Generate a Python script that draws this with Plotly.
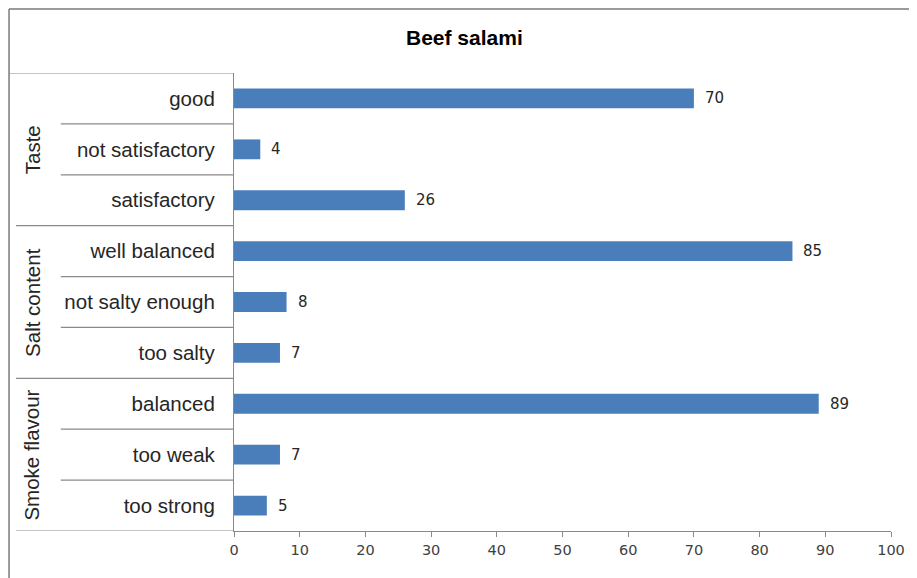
import plotly.graph_objects as go

categories = ["good", "not satisfactory", "satisfactory",
              "well balanced", "not salty enough", "too salty",
              "balanced", "too weak", "too strong"]
values = [70, 4, 26, 85, 8, 7, 89, 7, 5]
groups = ["Taste", "Salt content", "Smoke flavour"]
group_sizes = [3, 3, 3]
x_ticks = [0, 10, 20, 30, 40, 50, 60, 70, 80, 90, 100]
title = "Beef salami"

OFF = 8  # page body margin
W, H = 917 - OFF, 578 - OFF
ML, MR, MT, MB = 234 - OFF, 23, 73 - OFF, 47
PW = W - ML - MR
PH = H - MT - MB


def px_x(px):
    return (px - OFF - ML) / PW


def px_y(py):
    return (H - MB - (py - OFF)) / PH


line_col = "#8a8a8a"
bar_col = "#4a7ebb"

fig = go.Figure(go.Bar(
    x=values, y=categories, orientation="h",
    width=0.39, marker=dict(color=bar_col, line=dict(width=0)),
    hoverinfo="x+y",
))

annotations = []
for c, v in zip(categories, values):
    annotations.append(dict(x=v, y=c, xref="x", yref="y", text=str(v),
                            showarrow=False, xanchor="left", xshift=9,
                            font=dict(family="DejaVu Sans", size=15, color="#262626")))

shapes = []
# outer border (top and left)
shapes.append(dict(type="line", xref="paper", yref="paper",
                   x0=px_x(8), x1=px_x(930), y0=px_y(9), y1=px_y(9),
                   line=dict(color="#7a7a7a", width=1.5)))
shapes.append(dict(type="line", xref="paper", yref="paper",
                   x0=px_x(8), x1=px_x(8), y0=px_y(9), y1=px_y(590),
                   line=dict(color="#7a7a7a", width=1.5)))
# table lines
start = 0
for gi, (g, n) in enumerate(zip(groups, group_sizes)):
    top = start - 0.5
    x_left = 8 if gi == 0 else 15
    shapes.append(dict(type="line", xref="paper", yref="y",
                       x0=px_x(x_left), x1=0, y0=top, y1=top,
                       line=dict(color=line_col, width=1.2)))
    for k in range(1, n):
        yy = start + k - 0.5
        shapes.append(dict(type="line", xref="paper", yref="y",
                           x0=px_x(60), x1=0, y0=yy, y1=yy,
                           line=dict(color=line_col, width=1.2)))
    annotations.append(dict(x=px_x(31), y=start + (n - 1) / 2, xref="paper", yref="y",
                            text=g, textangle=-90, showarrow=False,
                            xanchor="center", yanchor="middle",
                            font=dict(family="Liberation Sans", size=20.5, color="#262626")))
    start += n
shapes.append(dict(type="line", xref="paper", yref="y",
                   x0=px_x(15), x1=0, y0=start - 0.5, y1=start - 0.5,
                   line=dict(color=line_col, width=1.2)))

annotations.append(dict(x=px_x(466), y=px_y(38), xref="paper", yref="paper",
                        text="<b>" + title + "</b>", showarrow=False,
                        xanchor="center", yanchor="middle",
                        font=dict(family="Liberation Sans", size=21, color="#000000")))

fig.update_layout(
    width=W, height=H,
    margin=dict(l=ML, r=MR, t=MT, b=MB, pad=0),
    paper_bgcolor="white", plot_bgcolor="white",
    showlegend=False,
    shapes=shapes, annotations=annotations,
    xaxis=dict(range=[0, 100], tickvals=x_ticks, ticktext=[str(t) for t in x_ticks],
               showgrid=False, zeroline=False, showline=True,
               linecolor=line_col, linewidth=1.2,
               ticks="outside", ticklen=5, tickcolor=line_col, tickwidth=1.2,
               tickfont=dict(family="DejaVu Sans", size=14.5, color="#404040"),
               fixedrange=True),
    yaxis=dict(categoryorder="array", categoryarray=categories,
               range=[len(categories) - 0.5, -0.5],
               showgrid=False, zeroline=False, showline=True,
               linecolor=line_col, linewidth=1.2, ticks="",
               ticklabelstandoff=14,
               tickfont=dict(family="Liberation Sans", size=20.5, color="#262626"),
               fixedrange=True),
)

fig.write_html("out.html")
